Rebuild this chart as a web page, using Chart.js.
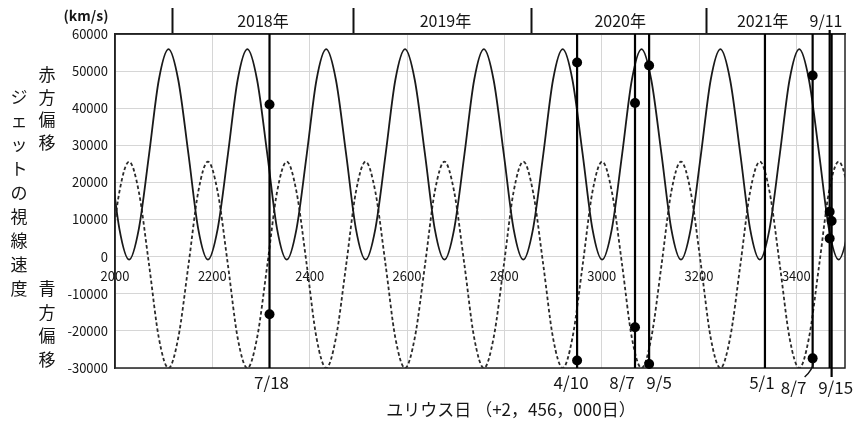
<!DOCTYPE html>
<html>
<head>
<meta charset="utf-8">
<script src="https://cdn.jsdelivr.net/npm/chart.js@4.4.0/dist/chart.umd.min.js"></script>
<style>
  html, body { margin: 0; padding: 0; background: #fff; }
</style>
</head>
<body>
<canvas id="chart" width="862" height="421"></canvas>
<script>
// tick labels
const xTicks = [2000, 2200, 2400, 2600, 2800, 3000, 3200, 3400];
const yearBounds = [2119, 2490, 2855, 3216];
const topLabelDays = [2304, 2679, 3038, 3331, 3461];
const topLabels = ['2018年', '2019年', '2020年', '2021年', '9/11'];

// model curves
const curveDays = [
  1968, 1989, 2009, 2029, 2049, 2070, 2090,
  2110, 2130, 2151, 2171, 2191, 2211, 2232, 2252,
  2272, 2292, 2313, 2333, 2353, 2373, 2394, 2414,
  2434, 2454, 2475, 2495, 2515, 2535, 2556, 2576,
  2596, 2616, 2637, 2657, 2677, 2697, 2718, 2738,
  2758, 2778, 2799, 2819, 2839, 2859, 2880, 2900,
  2920, 2940, 2961, 2981, 3001, 3021, 3042, 3062,
  3082, 3102, 3123, 3143, 3163, 3183, 3204, 3224,
  3244, 3264, 3285, 3305, 3325, 3345, 3366, 3386,
  3406, 3426, 3447, 3467, 3487, 3507, 3528
];
const redShift = [
  47600, 27550, 7500, -800, 7500, 27550, 47600,
  55900, 47600, 27550, 7500, -800, 7500, 27550, 47600,
  55900, 47600, 27550, 7500, -800, 7500, 27550, 47600,
  55900, 47600, 27550, 7500, -800, 7500, 27550, 47600,
  55900, 47600, 27550, 7500, -800, 7500, 27550, 47600,
  55900, 47600, 27550, 7500, -800, 7500, 27550, 47600,
  55900, 47600, 27550, 7500, -800, 7500, 27550, 47600,
  55900, 47600, 27550, 7500, -800, 7500, 27550, 47600,
  55900, 47600, 27550, 7500, -800, 7500, 27550, 47600,
  55900, 47600, 27550, 7500, -800, 7500, 27550
];
const blueShift = [
  -21850, -2200, 17450, 25600, 17450, -2200, -21850,
  -30000, -21850, -2200, 17450, 25600, 17450, -2200, -21850,
  -30000, -21850, -2200, 17450, 25600, 17450, -2200, -21850,
  -30000, -21850, -2200, 17450, 25600, 17450, -2200, -21850,
  -30000, -21850, -2200, 17450, 25600, 17450, -2200, -21850,
  -30000, -21850, -2200, 17450, 25600, 17450, -2200, -21850,
  -30000, -21850, -2200, 17450, 25600, 17450, -2200, -21850,
  -30000, -21850, -2200, 17450, 25600, 17450, -2200, -21850,
  -30000, -21850, -2200, 17450, 25600, 17450, -2200, -21850,
  -30000, -21850, -2200, 17450, 25600, 17450, -2200
];

// observation dates and measured velocities
const obsDays = [2317.5, 2949.5, 3068.5, 3097.5, 3335.5, 3433.5, 3468.5, 3472.5];
const obsNames = ['7/18', '4/10', '8/7', '9/5', '5/1', '8/7', '9/11', '9/15'];
const obsRed = [41000, 52300, 41400, 51500, null, 48800, 12100, 9600];
const obsBlue = [-15500, -28000, -19000, -28900, null, -27400, 4900, null];
const lineTop = [60000, 60000, 60000, 60000, 60000, 60000, 61100, 60000];
const lineBottom = [-30000, -30000, -30000, -30000, -30000, -30000, -30000, -32400];

// label placement (pixels) for the date names under the plot
const dateLabelShift = [[2, 0], [-6, 0], [-13, 0], [10, 0], [-3, 0], [-19, 5], null, [4, 5]];

const INK = '#1a1a1a';
const FONT = '"Noto Sans CJK JP", "Noto Sans", sans-serif';
Chart.defaults.font.family = FONT;
Chart.defaults.color = '#161616';

const dots = [];
obsDays.forEach((d, i) => {
  if (obsRed[i] !== null) dots.push({x: d, y: obsRed[i]});
  if (obsBlue[i] !== null) dots.push({x: d, y: obsBlue[i]});
});

const datasets = [
  { type: 'scatter', data: dots, pointRadius: 5, pointHoverRadius: 5,
    pointBackgroundColor: '#000', pointBorderWidth: 0, clip: false, order: 0 },
  { data: curveDays.map((d, i) => ({x: d, y: redShift[i]})), borderColor: INK,
    borderWidth: 1.8, pointRadius: 0, cubicInterpolationMode: 'monotone', order: 2 },
  { data: curveDays.map((d, i) => ({x: d, y: blueShift[i]})), borderColor: '#2a2a2a',
    borderWidth: 1.8, borderDash: [3.5, 2.5], pointRadius: 0, cubicInterpolationMode: 'monotone', order: 3 }
];
obsDays.forEach((d, i) => {
  datasets.push({ data: [{x: d, y: lineBottom[i]}, {x: d, y: lineTop[i]}],
    borderColor: '#000', borderWidth: 2.2, pointRadius: 0, clip: false, order: 1 });
});

const topTicks = yearBounds.concat(topLabelDays).sort((a, b) => a - b);

const extras = {
  id: 'extras',
  beforeDatasetsDraw(chart) {
    const {ctx, chartArea: a} = chart;
    ctx.save();
    ctx.strokeStyle = '#222';
    ctx.lineWidth = 1.5;
    ctx.strokeRect(a.left, a.top, a.right - a.left, a.bottom - a.top);
    ctx.restore();
  },
  afterDraw(chart) {
    const {ctx, chartArea: a} = chart;
    const xs = chart.scales.x;
    ctx.save();
    ctx.fillStyle = '#161616';
    ctx.textAlign = 'center';
    ctx.textBaseline = 'middle';

    // date names under the plot
    ctx.font = '17px ' + FONT;
    obsNames.forEach((n, i) => {
      const s = dateLabelShift[i];
      if (!s) return;
      ctx.fillText(n, xs.getPixelForValue(obsDays[i]) + s[0], a.bottom + 15 + s[1]);
    });
    // small hook from the 2021 8/7 line to its label
    const hx = xs.getPixelForValue(obsDays[5]);
    ctx.strokeStyle = '#111';
    ctx.lineWidth = 1.5;
    ctx.beginPath();
    ctx.moveTo(hx + 1, a.bottom - 6);
    ctx.quadraticCurveTo(hx, a.bottom + 2, hx - 8, a.bottom + 9);
    ctx.stroke();

    // axis titles
    ctx.font = '17px ' + FONT;
    ctx.fillText('ユリウス日 （+2，456，000日）', 511, 410);
    ctx.font = 'bold 14px ' + FONT;
    ctx.fillText('(km/s)', 86, 16);

    ctx.font = '17px ' + FONT;
    Array.from('ジェットの視線速度').forEach((c, i) => ctx.fillText(c, 19, 97 + i * 24));
    Array.from('赤方偏移').forEach((c, i) => ctx.fillText(c, 47, 75 + i * 22.5));
    Array.from('青方偏移').forEach((c, i) => ctx.fillText(c, 47, 289 + i * 23.5));
    ctx.restore();
  }
};

new Chart(document.getElementById('chart'), {
  type: 'line',
  data: { datasets: datasets },
  options: {
    responsive: false,
    animation: false,
    devicePixelRatio: 1,
    layout: { padding: { left: 0, right: 17, top: 0, bottom: 53 } },
    plugins: { legend: { display: false }, tooltip: { enabled: false } },
    scales: {
      x: {
        type: 'linear', position: { y: 0 }, min: 2000, max: 3500,
        afterBuildTicks: s => { s.ticks = xTicks.map(v => ({value: v})); },
        grid: { color: '#d6d6d6', lineWidth: 1, drawTicks: false },
        border: { display: false },
        ticks: { padding: 12, autoSkip: false, maxRotation: 0, minRotation: 0,
          font: { size: 13 }, callback: v => String(v) }
      },
      x2: {
        type: 'linear', position: 'top', min: 2000, max: 3500,
        afterBuildTicks: s => { s.ticks = topTicks.map(v => ({value: v})); },
        afterFit: s => { s.height = 34; },
        grid: { drawOnChartArea: false, tickLength: 26, tickWidth: 2,
          tickColor: c => (c.tick && yearBounds.includes(c.tick.value)) ? '#111' : 'rgba(0,0,0,0)' },
        border: { display: true, color: '#222', width: 1.5 },
        ticks: { padding: -23, autoSkip: false, maxRotation: 0, minRotation: 0,
          font: { size: 16 },
          callback: v => { const k = topLabelDays.indexOf(v); return k < 0 ? '' : topLabels[k]; } }
      },
      y: {
        type: 'linear', min: -30000, max: 60000,
        afterFit: s => { s.width = 115; },
        grid: { color: '#d6d6d6', lineWidth: 1, drawTicks: false },
        border: { display: true, color: '#222', width: 1.5 },
        ticks: { stepSize: 10000, padding: 7, font: { size: 13 }, callback: v => String(v) }
      }
    }
  },
  plugins: [extras]
});
</script>
</body>
</html>
